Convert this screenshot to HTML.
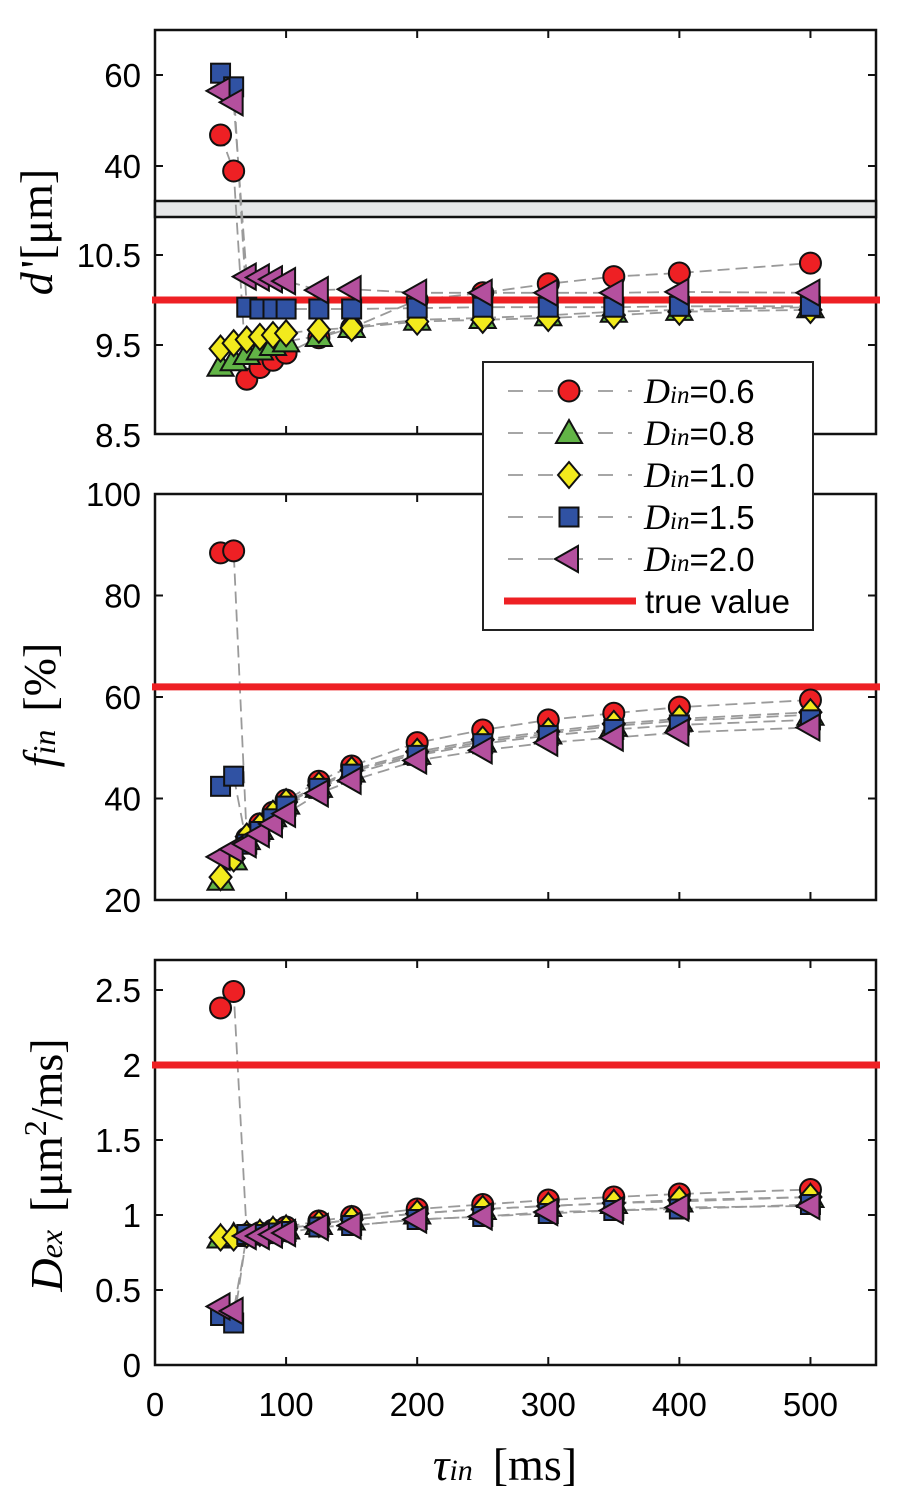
<!DOCTYPE html>
<html><head><meta charset="utf-8">
<style>
html,body{margin:0;padding:0;background:#fff;}
svg{display:block;}
.tick{font-family:"Liberation Sans",sans-serif;font-size:33px;fill:#000;}
.lab{font-family:"Liberation Serif",serif;font-size:46px;fill:#000;}
</style></head>
<body>
<svg id="chart" width="903" height="1500" viewBox="0 0 903 1500" xmlns="http://www.w3.org/2000/svg"></svg>
<script>
const tau = [50,60,70,80,90,100,125,150,200,250,300,350,400,500];
const seriesNames = ["Din=0.6","Din=0.8","Din=1.0","Din=1.5","Din=2.0"];
const dPrime06 = [46.8,38.9,9.12,9.25,9.33,9.41,9.58,9.69,10.0,10.08,10.18,10.26,10.3,10.41];
const dPrime08 = [9.27,9.33,9.4,9.45,9.5,9.54,9.6,9.7,9.78,9.8,9.83,9.87,9.89,9.92];
const dPrime10 = [9.46,9.52,9.56,9.59,9.61,9.63,9.67,9.69,9.76,9.78,9.8,9.83,9.87,9.89];
const dPrime15 = [60.4,57.4,9.92,9.9,9.9,9.9,9.9,9.9,9.91,9.92,9.92,9.92,9.93,9.93];
const dPrime20 = [56.5,54,10.26,10.25,10.23,10.21,10.11,10.12,10.08,10.08,10.08,10.08,10.09,10.08];
const fin06 = [88.4,88.8,32.2,35,37.3,39.7,43.4,46.4,51,53.5,55.5,56.8,58,59.4];
const fin08 = [24,28,32,34,36.5,39,42.3,45.3,48.8,51.2,52.8,54.3,55.3,56.5];
const fin10 = [24.5,28.2,32.5,34.5,37,39.3,42.6,45.6,49.2,51.6,53.2,54.7,55.7,57];
const fin15 = [42.4,44.4,31,33.5,36,38.5,42,44.8,48.5,50.8,52.4,53.6,54.5,55.5];
const fin20 = [28.5,30,31,33,35,37,41,43.5,47.5,49.5,51,52,53,54];
const dex06 = [2.38,2.49,0.87,0.88,0.9,0.92,0.96,0.99,1.04,1.07,1.1,1.12,1.14,1.17];
const dex08 = [0.85,0.86,0.87,0.88,0.9,0.91,0.94,0.97,1.01,1.04,1.06,1.08,1.09,1.12];
const dex10 = [0.85,0.85,0.87,0.88,0.9,0.91,0.94,0.97,1.01,1.04,1.06,1.08,1.1,1.12];
const dex15 = [0.33,0.28,0.87,0.87,0.88,0.89,0.92,0.93,0.97,0.99,1.01,1.03,1.04,1.07];
const dex20 = [0.39,0.36,0.86,0.86,0.87,0.88,0.92,0.93,0.97,0.99,1.02,1.03,1.05,1.06];
const trueD = 10.0, trueFin = 62, trueDex = 2;
const xTicks = [0,100,200,300,400,500];
const dTicksTop = [60,40];
const dTicksLow = [10.5,9.5,8.5];
const finTicks = [100,80,60,40,20];
const dexTicks = [2.5,2,1.5,1,0.5,0];

const NS="http://www.w3.org/2000/svg";
const svg=document.getElementById('chart');
function el(tag,attrs,parent){const e=document.createElementNS(NS,tag);for(const k in attrs)e.setAttribute(k,attrs[k]);(parent||svg).appendChild(e);return e;}
const X0=155,X1=876;
function xs(v){return X0+(v/550)*(X1-X0);}
function yd(v){ if(v>20) return 166-(v-40)*4.55; return 345-(v-9.5)*90; }
function yf(v){ return 900-(v-20)*5.075; }
function ye(v){ return 1365-v*150; }
const colors=["#ee2024","#62b446","#f2ea1d","#3052a3","#b4509e"];
const shapes=["circle","triangle","diamond","square","left"];
function marker(shape,cx,cy,color,g){
  let m;
  const st={fill:color,stroke:'#111','stroke-width':2};
  if(shape==='circle') m=el('circle',Object.assign({cx:cx,cy:cy,r:10.5},st),g);
  else if(shape==='triangle') m=el('polygon',Object.assign({points:`${cx},${cy-13} ${cx+13},${cy+10} ${cx-13},${cy+10}`},st),g);
  else if(shape==='diamond') m=el('polygon',Object.assign({points:`${cx},${cy-13} ${cx+11},${cy} ${cx},${cy+13} ${cx-11},${cy}`},st),g);
  else if(shape==='square') m=el('rect',Object.assign({x:cx-9.5,y:cy-9.5,width:19,height:19},st),g);
  else m=el('polygon',Object.assign({points:`${cx-14},${cy} ${cx+9},${cy-13} ${cx+9},${cy+13}`},st),g);
  return m;
}
function panel(name,top,bot,series,yfun,trueV,yTicks,breakBand){
  const g=el('g',{});
  
  
  const frame=el('rect',{x:X0,y:top,width:X1-X0,height:bot-top,fill:'none',stroke:'#111','stroke-width':2.5},g);
  
  
  xTicks.forEach(t=>{ if(t===0) return; const x=xs(t);
    el('line',{x1:x,y1:bot,x2:x,y2:bot-8,stroke:'#111','stroke-width':2},g);
    el('line',{x1:x,y1:top,x2:x,y2:top+8,stroke:'#111','stroke-width':2},g);});
  yTicks.forEach(t=>{ const y=yfun(t);
    if(Math.abs(y-bot)>2 && Math.abs(y-top)>2){
      el('line',{x1:X0,y1:y,x2:X0+8,y2:y,stroke:'#111','stroke-width':2},g);
      el('line',{x1:X1,y1:y,x2:X1-8,y2:y,stroke:'#111','stroke-width':2},g);}
    const tx=el('text',{x:X0-14,y:y+12,'text-anchor':'end',class:'tick'},g);
    tx.textContent=String(t);
    
    
  });
  if(breakBand){
    const b=el('rect',{x:X0,y:201,width:X1-X0,height:16,fill:'#e6e7e8',stroke:'#111','stroke-width':2.5},g);
    
    
  }
  series.forEach((s,i)=>{
    const pts=tau.map((t,j)=>xs(t)+','+yfun(s[j])).join(' ');
    const pl=el('polyline',{points:pts,fill:'none',stroke:'#9a9a9a','stroke-width':1.8,'stroke-dasharray':'12,6'},g);
    
    
  });
  const tl=el('line',{x1:152,y1:yfun(trueV),x2:880,y2:yfun(trueV),stroke:'#ee2024','stroke-width':7},g);
  
  
  series.forEach((s,i)=>{
    tau.forEach((t,j)=>{
      const m=marker(shapes[i],xs(t),yfun(s[j]),colors[i],g);
      
      
    });
  });
}
panel('panel-d-prime',30,434,[dPrime06,dPrime08,dPrime10,dPrime15,dPrime20],yd,trueD,dTicksTop.concat(dTicksLow),true);
panel('panel-fin',494,900,[fin06,fin08,fin10,fin15,fin20],yf,trueFin,finTicks,false);
panel('panel-dex',960,1365,[dex06,dex08,dex10,dex15,dex20],ye,trueDex,dexTicks,false);
xTicks.forEach(t=>{
  const tx=el('text',{x:xs(t),y:1416,'text-anchor':'middle',class:'tick'});
  tx.textContent=String(t);
  
  
});
const lg=el('g',{});


el('rect',{x:483,y:362,width:330,height:268,fill:'#fff',stroke:'#222','stroke-width':2},lg);
const legVals=["0.6","0.8","1.0","1.5","2.0"];
legVals.forEach((v,i)=>{
  const y=391+i*42;
  const e=el('g',{},lg);
  
  
  el('line',{x1:508,y1:y,x2:632,y2:y,stroke:'#9a9a9a','stroke-width':1.8,'stroke-dasharray':'15,15'},e);
  marker(shapes[i],569,y,colors[i],e);
  const t=el('text',{x:644,y:y+12,class:'tick'},e);
  t.innerHTML='<tspan style="font-family:\'Liberation Serif\',serif;font-style:italic;font-size:36px">D</tspan><tspan style="font-family:\'Liberation Serif\',serif;font-style:italic;font-size:25px">in</tspan>=' + v;
});
const te=el('g',{},lg);


el('line',{x1:504,y1:601,x2:636,y2:601,stroke:'#ee2024','stroke-width':7},te);
const tt=el('text',{x:645,y:613,class:'tick'},te);tt.textContent='true value';
function ylab(name,cx,cy,html){
  const t=el('text',{x:cx,y:cy,'text-anchor':'middle',class:'lab',transform:`rotate(-90 ${cx} ${cy})`});
  t.innerHTML=html;
  
  
}
ylab('y-axis-title-d-prime',52,232,'<tspan font-style="italic">d</tspan><tspan dx="4">\'[μm]</tspan>');
ylab('y-axis-title-fin',55,705,'<tspan font-style="italic">f</tspan><tspan font-style="italic" font-size="32">in</tspan><tspan dx="18">[%]</tspan>');
ylab('y-axis-title-dex',62,1165,'<tspan font-style="italic">D</tspan><tspan font-style="italic" font-size="32">ex</tspan><tspan dx="18">[μm</tspan><tspan dy="-16" font-size="32">2</tspan><tspan dy="16">/ms]</tspan>');
const xl=el('text',{x:505,y:1480,'text-anchor':'middle',class:'lab'});
xl.innerHTML='<tspan font-style="italic">τ</tspan><tspan font-style="italic" font-size="30">in</tspan><tspan dx="20">[ms]</tspan>';


</script>
</body></html>
